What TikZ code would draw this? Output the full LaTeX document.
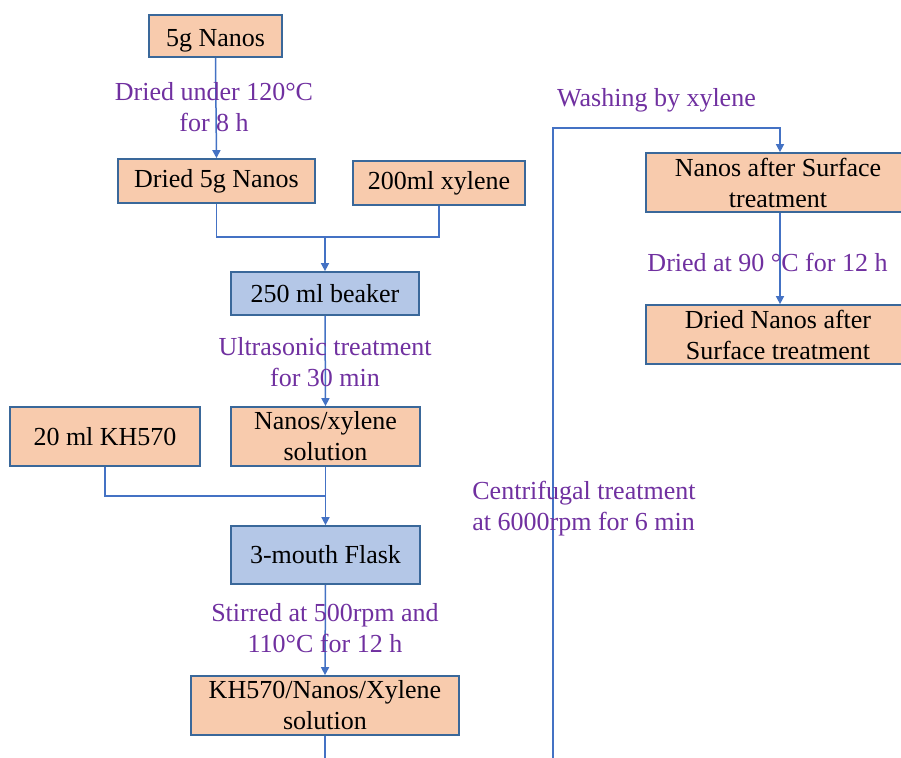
\documentclass[tikz,border=0pt]{standalone}
\usepackage{fontspec}
\setmainfont{Liberation Serif}
\usetikzlibrary{arrows.meta}
\definecolor{peach}{HTML}{F8CBAD}
\definecolor{paleblue}{HTML}{B4C7E7}
\definecolor{boxline}{HTML}{3A689A}
\definecolor{flow}{HTML}{4472C4}
\definecolor{note}{HTML}{7030A0}
\tikzset{
  stage/.style={draw=boxline, line width=0.85pt, fill=peach, inner sep=0pt,
    align=center, font=\fontsize{13}{15.5}\selectfont},
  vessel/.style={stage, fill=paleblue},
  flowline/.style={draw=flow, line width=0.75pt},
  flowarrow/.style={flowline, -{Triangle[length=4pt,width=4pt]}},
  note/.style={text=note, align=center, inner sep=0pt, font=\fontsize{13}{15.5}\selectfont}
}
\begin{document}
\begin{tikzpicture}[x=0.5pt, y=-0.5pt]
\useasboundingbox (0,0) rectangle (901,758);
\clip (0,0) rectangle (901,758);
\fill[white] (0,0) rectangle (901,758);

% left column
\node[stage, minimum width=66.5pt, minimum height=21pt] (n5g) at (215.5,36) {\raisebox{-2.5pt}[\height][\depth]{5g Nanos}};
\node[stage, minimum width=98.5pt, minimum height=22pt] (dried) at (216.5,181) {Dried 5g Nanos};
\node[stage, minimum width=86pt, minimum height=22pt] (xyl) at (439,183) {200ml xylene};
\node[vessel, minimum width=94pt, minimum height=21.5pt] (beaker) at (325,293.5) {250 ml beaker};
\node[stage, minimum width=94.5pt, minimum height=29.5pt] (nxsol) at (325.5,436.5) {Nanos/xylene\\solution};
\node[stage, minimum width=95pt, minimum height=29.5pt] (kh) at (105,436.5) {20 ml KH570};
\node[vessel, minimum width=94.5pt, minimum height=29pt] (flask) at (325.5,555) {3-mouth Flask};
\node[stage, minimum width=134pt, minimum height=29.5pt] (khsol) at (325,705.5) {KH570/Nanos/Xylene\\solution};

% right column
\node[stage, minimum width=132pt, minimum height=29.5pt] (nas) at (778,182.5) {Nanos after Surface\\treatment};
\node[stage, minimum width=132pt, minimum height=29.5pt] (dnas) at (778,334.5) {Dried Nanos after\\Surface treatment};

% junctions and free ends
\coordinate (j1) at (325,237);
\coordinate (j2) at (325,496);
\coordinate (endA) at (325,760);
\coordinate (endB) at (553,760);
\coordinate (turn) at (553,128);

% connectors
\draw[flowarrow] (n5g.south) -- (dried.north);
\draw[flowline] (dried.south) |- (j1) -| (xyl.south);
\draw[flowarrow] (j1) -- (beaker.north);
\draw[flowarrow] (beaker.south) -- (nxsol.north);
\draw[flowline] (kh.south) |- (j2);
\draw[flowarrow] (nxsol.south) -- (flask.north);
\draw[flowarrow] (flask.south) -- (khsol.north);
\draw[flowline] (khsol.south) -- (endA);
\draw[flowarrow] (endB) -- (turn) -| ([xshift=1pt]nas.north);
\draw[flowarrow] ([xshift=1pt]nas.south) -- ([xshift=1pt]dnas.north);

% process notes
\node[note] (t1) at (214,107.5) {Dried under 120\textdegree C\\for 8 h};
\node[note] (t2) at (325,362.5) {Ultrasonic treatment\\for 30 min};
\node[note] (t3) at (325,628.5) {Stirred at 500rpm and\\110\textdegree C for 12 h};
\node[note] (t4) at (656.5,100) {Washing by xylene};
\node[note] (t5) at (767.5,262) {Dried at 90 \textdegree C for 12 h};
\node[note, align=left, anchor=west] (t6) at (472,509) {Centrifugal treatment\\at 6000rpm for 6 min};
\end{tikzpicture}
\end{document}
